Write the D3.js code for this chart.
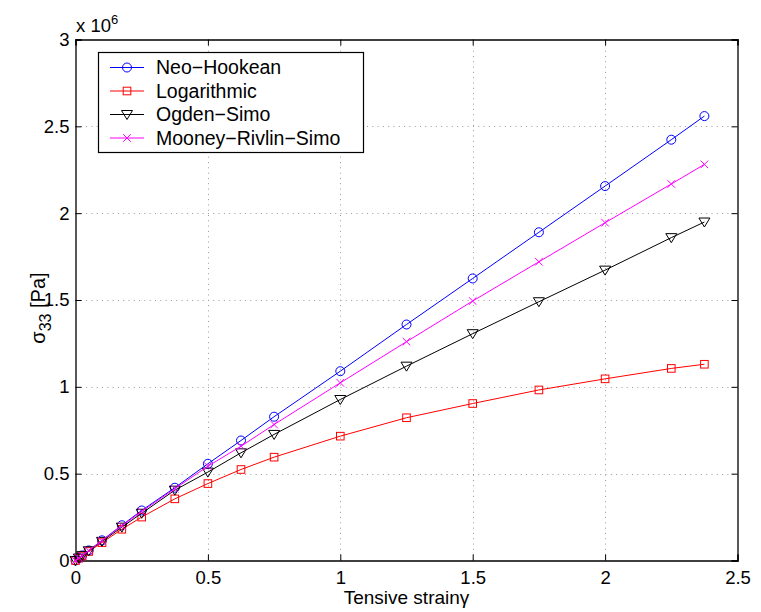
<!DOCTYPE html>
<html>
<head>
<meta charset="utf-8">
<script src="https://cdn.jsdelivr.net/npm/d3@7"></script>
<style>
  body { margin: 0; background: #fff; }
  svg text { font-family: "Liberation Sans", Arial, sans-serif; fill: #000; }
</style>
</head>
<body>
<div id="chart"></div>
<script>
// strain values (x) and stress values (x 10^6 Pa)
const strain = [0, 0.0125, 0.025, 0.05, 0.1, 0.175, 0.25, 0.375, 0.5, 0.625, 0.75, 1, 1.25, 1.5, 1.75, 2, 2.25, 2.375];
const neoHookean = [0, 0.014, 0.029, 0.058, 0.116, 0.203, 0.288, 0.419, 0.557, 0.691, 0.828, 1.09, 1.359, 1.624, 1.89, 2.156, 2.423, 2.559];
const logarithmic = [0, 0.013, 0.026, 0.052, 0.103, 0.18, 0.25, 0.355, 0.443, 0.524, 0.595, 0.716, 0.822, 0.904, 0.982, 1.046, 1.106, 1.13];
const ogdenSimo = [0, 0.014, 0.028, 0.056, 0.11, 0.192, 0.272, 0.405, 0.509, 0.62, 0.726, 0.927, 1.119, 1.306, 1.49, 1.672, 1.859, 1.949];
const mooneyRivlin = [0, 0.014, 0.028, 0.057, 0.114, 0.2, 0.282, 0.413, 0.543, 0.658, 0.783, 1.023, 1.26, 1.494, 1.72, 1.945, 2.168, 2.281];
const seriesNames = ["Neo\u2212Hookean", "Logarithmic", "Ogden\u2212Simo", "Mooney\u2212Rivlin\u2212Simo"];
const xTicks = [0, 0.5, 1, 1.5, 2, 2.5];
const yTicks = [0, 0.5, 1, 1.5, 2, 2.5, 3];

const width = 761, height = 612;
const plotLeft = 75.5, plotRight = 737.5, plotTop = 39.5, plotBottom = 560.5;

const svg = d3.select("#chart").append("svg")
    .attr("width", width)
    .attr("height", height);

const x = d3.scaleLinear().domain([0, 2.5]).range([plotLeft, plotRight]);
const y = d3.scaleLinear().domain([0, 3]).range([plotBottom, plotTop]);

// grid
const grid = svg.append("g")
    .attr("stroke", "#9a9a9a")
    .attr("stroke-width", 1)
    .attr("stroke-dasharray", "1,4.3");
grid.selectAll(".vg").data(xTicks.slice(1, -1)).enter().append("line")
    .attr("x1", d => Math.round(x(d)) + 0.5).attr("x2", d => Math.round(x(d)) + 0.5)
    .attr("y1", plotBottom).attr("y2", plotTop);
grid.selectAll(".hg").data(yTicks.slice(1, -1)).enter().append("line")
    .attr("y1", d => Math.round(y(d)) + 0.5).attr("y2", d => Math.round(y(d)) + 0.5)
    .attr("x1", plotLeft).attr("x2", plotRight);

// axes with inward ticks on all four sides
const fmt = d => d3.format("")(d);
const axB = svg.append("g").attr("transform", `translate(0,${plotBottom})`)
    .call(d3.axisBottom(x).tickValues(xTicks).tickSize(-6).tickPadding(10).tickFormat(fmt));
const axT = svg.append("g").attr("transform", `translate(0,${plotTop})`)
    .call(d3.axisTop(x).tickValues(xTicks).tickSize(-6).tickFormat(""));
const axL = svg.append("g").attr("transform", `translate(${plotLeft},0)`)
    .call(d3.axisLeft(y).tickValues(yTicks).tickSize(-6).tickPadding(6).tickFormat(fmt));
const axR = svg.append("g").attr("transform", `translate(${plotRight},0)`)
    .call(d3.axisRight(y).tickValues(yTicks).tickSize(-6).tickFormat(""));
[axB, axT, axL, axR].forEach(a => {
    a.select(".domain").attr("stroke", "#000").attr("stroke-width", 1.3);
    a.selectAll(".tick line").attr("stroke", "#000").attr("stroke-width", 1);
    a.selectAll(".tick text").style("font-size", "18.5px").attr("fill", "#000");
});

// series
const series = [
    { name: seriesNames[0], values: neoHookean, color: "#0000ff", marker: "circle" },
    { name: seriesNames[1], values: logarithmic, color: "#ff0000", marker: "square" },
    { name: seriesNames[2], values: ogdenSimo, color: "#000000", marker: "triangle" },
    { name: seriesNames[3], values: mooneyRivlin, color: "#ff00ff", marker: "cross" }
];

function drawMarker(g, type, cx, cy, color) {
    if (type === "circle") {
        g.append("circle").attr("cx", cx).attr("cy", cy).attr("r", 4.5)
            .attr("fill", "none").attr("stroke", color).attr("stroke-width", 1);
    } else if (type === "square") {
        g.append("rect").attr("x", cx - 3.8).attr("y", cy - 3.8).attr("width", 7.6).attr("height", 7.6)
            .attr("fill", "none").attr("stroke", color).attr("stroke-width", 1);
    } else if (type === "triangle") {
        g.append("path").attr("d", `M${cx - 5.5},${cy - 4}L${cx + 5.5},${cy - 4}L${cx},${cy + 5}Z`)
            .attr("fill", "none").attr("stroke", color).attr("stroke-width", 1);
    } else {
        g.append("path").attr("d", `M${cx - 3.8},${cy - 3.8}L${cx + 3.8},${cy + 3.8}M${cx - 3.8},${cy + 3.8}L${cx + 3.8},${cy - 3.8}`)
            .attr("fill", "none").attr("stroke", color).attr("stroke-width", 1);
    }
}

const line = d3.line().x(d => x(d[0])).y(d => y(d[1]));

series.forEach(s => {
    const pts = strain.map((v, i) => [v, s.values[i]]);
    const g = svg.append("g");
    g.append("path").datum(pts)
        .attr("d", line)
        .attr("fill", "none")
        .attr("stroke", s.color)
        .attr("stroke-width", 1);
    pts.forEach(p => drawMarker(g, s.marker, x(p[0]), y(p[1]), s.color));
});

// legend
const legend = svg.append("g");
legend.append("rect")
    .attr("x", 98.5).attr("y", 52.5).attr("width", 265).attr("height", 100)
    .attr("fill", "#fff").attr("stroke", "#000").attr("stroke-width", 1.2);
series.forEach((s, i) => {
    const ly = 67.5 + i * 23.5;
    legend.append("line").attr("x1", 110).attr("x2", 144).attr("y1", ly).attr("y2", ly)
        .attr("stroke", s.color).attr("stroke-width", 1);
    drawMarker(legend, s.marker, 127, ly, s.color);
    legend.append("text").attr("x", 156).attr("y", ly + 6.5)
        .style("font-size", "19.5px").text(s.name);
});

// axis labels
svg.append("text")
    .attr("x", (plotLeft + plotRight) / 2).attr("y", 604)
    .attr("text-anchor", "middle")
    .style("font-size", "19px")
    .text("Tensive strain\u03b3");

const yl = svg.append("text")
    .attr("transform", `translate(45,${(plotTop + plotBottom) / 2 + 8}) rotate(-90)`)
    .attr("text-anchor", "middle")
    .style("font-size", "20px");
yl.append("tspan").text("\u03c3");
yl.append("tspan").attr("dy", 6).style("font-size", "16px").text("33");
yl.append("tspan").attr("dy", -6).text(" [Pa]");

// exponent
const ex = svg.append("text").attr("x", 76).attr("y", 32).style("font-size", "18.5px");
ex.append("tspan").text("x 10");
ex.append("tspan").attr("dy", -8).style("font-size", "13px").text("6");
</script>
</body>
</html>
